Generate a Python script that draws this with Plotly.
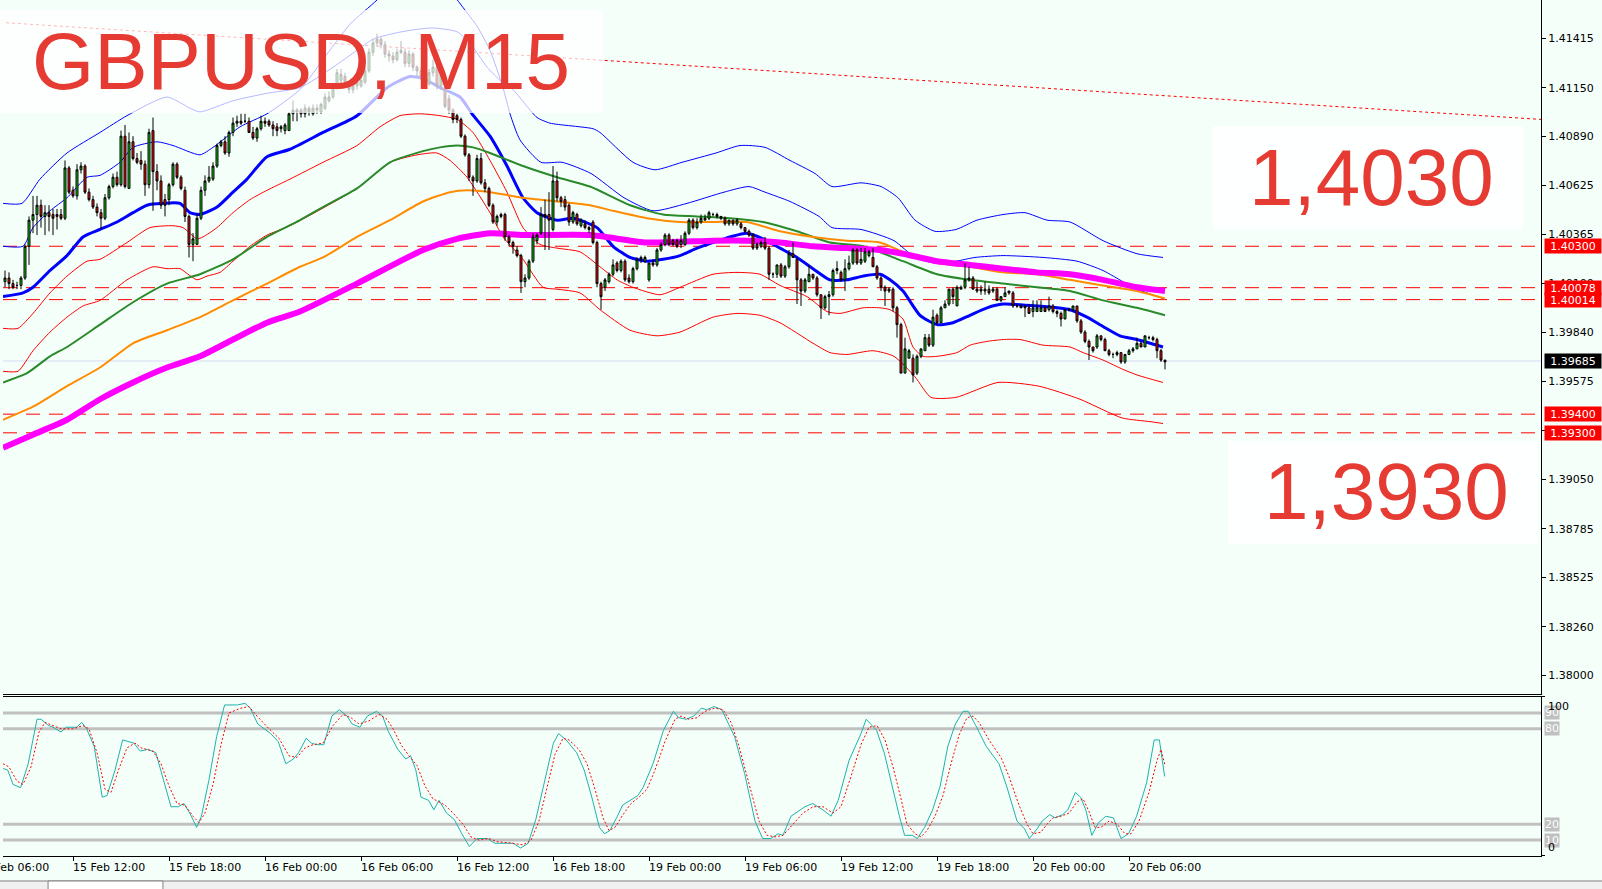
import plotly.graph_objects as go

# GBPUSD M15 candles, 15 Feb 07:45 .. 20 Feb 08:15 (one value per bar)
opens = [
    1.4011, 1.4013, 1.4010, 1.4009, 1.4009, 1.4013, 1.4030, 1.4044, 1.4047, 1.4052,  # 0
    1.4046, 1.4048, 1.4047, 1.4047, 1.4047, 1.4045, 1.4072, 1.4060, 1.4057, 1.4071,  # 10
    1.4073, 1.4059, 1.4055, 1.4051, 1.4048, 1.4045, 1.4056, 1.4062, 1.4067, 1.4063,  # 20
    1.4089, 1.4061, 1.4086, 1.4077, 1.4076, 1.4074, 1.4063, 1.4092, 1.4070, 1.4065,  # 30
    1.4055, 1.4055, 1.4063, 1.4074, 1.4067, 1.4060, 1.4046, 1.4031, 1.4031, 1.4045,  # 40
    1.4060, 1.4065, 1.4066, 1.4073, 1.4084, 1.4086, 1.4080, 1.4091, 1.4096, 1.4097,  # 50
    1.4097, 1.4097, 1.4091, 1.4088, 1.4093, 1.4097, 1.4097, 1.4095, 1.4094, 1.4093,  # 60
    1.4092, 1.4092, 1.4101, 1.4103, 1.4103, 1.4101, 1.4104, 1.4101, 1.4104, 1.4102,  # 70
    1.4104, 1.4108, 1.4110, 1.4115, 1.4119, 1.4121, 1.4117, 1.4114, 1.4116, 1.4116,  # 80
    1.4118, 1.4124, 1.4134, 1.4139, 1.4141, 1.4138, 1.4133, 1.4132, 1.4130, 1.4134,  # 90
    1.4134, 1.4128, 1.4133, 1.4126, 1.4124, 1.4121, 1.4117, 1.4123, 1.4126, 1.4116,  # 100
    1.4115, 1.4109, 1.4103, 1.4100, 1.4098, 1.4089, 1.4079, 1.4067, 1.4065, 1.4077,  # 110
    1.4064, 1.4061, 1.4052, 1.4043, 1.4046, 1.4047, 1.4035, 1.4032, 1.4028, 1.4025,  # 120
    1.4011, 1.4013, 1.4022, 1.4033, 1.4037, 1.4046, 1.4047, 1.4039, 1.4065, 1.4056,  # 130
    1.4055, 1.4052, 1.4043, 1.4047, 1.4041, 1.4042, 1.4040, 1.4043, 1.4032, 1.4010,  # 140
    1.4008, 1.4011, 1.4015, 1.4021, 1.4017, 1.4022, 1.4013, 1.4011, 1.4018, 1.4023,  # 150
    1.4022, 1.4012, 1.4021, 1.4020, 1.4028, 1.4031, 1.4036, 1.4033, 1.4033, 1.4031,  # 160
    1.4031, 1.4037, 1.4044, 1.4040, 1.4043, 1.4044, 1.4045, 1.4047, 1.4047, 1.4046,  # 170
    1.4045, 1.4042, 1.4044, 1.4042, 1.4042, 1.4040, 1.4038, 1.4036, 1.4031, 1.4030,  # 180
    1.4032, 1.4029, 1.4015, 1.4015, 1.4020, 1.4014, 1.4019, 1.4026, 1.4023, 1.4012,  # 190
    1.4006, 1.4011, 1.4015, 1.4013, 1.4004, 1.3997, 1.4003, 1.4004, 1.4017, 1.4016,  # 200
    1.4012, 1.4018, 1.4021, 1.4028, 1.4021, 1.4022, 1.4025, 1.4024, 1.4019, 1.4013,  # 210
    1.4008, 1.4006, 1.4007, 1.3997, 1.3988, 1.3962, 1.3970, 1.3970, 1.3962, 1.3971,  # 220
    1.3974, 1.3981, 1.3977, 1.3993, 1.3989, 1.3997, 1.3999, 1.4007, 1.3998, 1.4007,  # 230
    1.4008, 1.4012, 1.4013, 1.4007, 1.4007, 1.4006, 1.4007, 1.4006, 1.4007, 1.4001,  # 240
    1.4003, 1.4006, 1.4005, 1.3998, 1.3998, 1.3998, 1.3997, 1.3995, 1.3995, 1.3995,  # 250
    1.3997, 1.3996, 1.3998, 1.3995, 1.3994, 1.3991, 1.3996, 1.3996, 1.3998, 1.3990,  # 260
    1.3984, 1.3979, 1.3976, 1.3976, 1.3982, 1.3980, 1.3974, 1.3972, 1.3972, 1.3973,  # 270
    1.3968, 1.3972, 1.3974, 1.3975, 1.3978, 1.3976, 1.3981, 1.3981, 1.3980, 1.3974,  # 280
    1.3969,
]
highs = [
    1.4017, 1.4016, 1.4012, 1.4011, 1.4014, 1.4031, 1.4046, 1.4057, 1.4057, 1.4055,
    1.4052, 1.4052, 1.4050, 1.4050, 1.4050, 1.4076, 1.4073, 1.4062, 1.4074, 1.4075,
    1.4074, 1.4061, 1.4057, 1.4053, 1.4050, 1.4058, 1.4063, 1.4069, 1.4070, 1.4092,
    1.4095, 1.4091, 1.4089, 1.4080, 1.4081, 1.4076, 1.4093, 1.4099, 1.4074, 1.4068,
    1.4058, 1.4064, 1.4075, 1.4075, 1.4068, 1.4062, 1.4047, 1.4037, 1.4047, 1.4062,
    1.4068, 1.4073, 1.4075, 1.4085, 1.4087, 1.4089, 1.4092, 1.4099, 1.4100, 1.4101,
    1.4101, 1.4099, 1.4094, 1.4094, 1.4100, 1.4099, 1.4098, 1.4097, 1.4096, 1.4095,
    1.4096, 1.4102, 1.4108, 1.4104, 1.4104, 1.4106, 1.4105, 1.4106, 1.4106, 1.4107,
    1.4112, 1.4113, 1.4117, 1.4125, 1.4125, 1.4123, 1.4119, 1.4118, 1.4121, 1.4122,
    1.4126, 1.4136, 1.4141, 1.4144, 1.4142, 1.4140, 1.4135, 1.4134, 1.4136, 1.4140,
    1.4136, 1.4135, 1.4134, 1.4127, 1.4126, 1.4123, 1.4125, 1.4130, 1.4128, 1.4124,
    1.4116, 1.4111, 1.4104, 1.4101, 1.4099, 1.4090, 1.4080, 1.4068, 1.4079, 1.4080,
    1.4066, 1.4062, 1.4053, 1.4047, 1.4048, 1.4048, 1.4036, 1.4033, 1.4030, 1.4026,
    1.4015, 1.4023, 1.4037, 1.4037, 1.4051, 1.4055, 1.4059, 1.4073, 1.4070, 1.4057,
    1.4057, 1.4053, 1.4049, 1.4048, 1.4045, 1.4044, 1.4041, 1.4044, 1.4033, 1.4011,
    1.4013, 1.4016, 1.4023, 1.4022, 1.4023, 1.4023, 1.4015, 1.4019, 1.4024, 1.4025,
    1.4025, 1.4021, 1.4023, 1.4029, 1.4032, 1.4037, 1.4037, 1.4034, 1.4034, 1.4036,
    1.4038, 1.4045, 1.4045, 1.4045, 1.4047, 1.4047, 1.4049, 1.4048, 1.4048, 1.4046,
    1.4046, 1.4044, 1.4044, 1.4045, 1.4043, 1.4040, 1.4039, 1.4037, 1.4032, 1.4033,
    1.4035, 1.4030, 1.4016, 1.4020, 1.4021, 1.4020, 1.4028, 1.4032, 1.4024, 1.4013,
    1.4013, 1.4020, 1.4015, 1.4014, 1.4004, 1.4004, 1.4006, 1.4018, 1.4022, 1.4017,
    1.4023, 1.4025, 1.4029, 1.4029, 1.4029, 1.4029, 1.4028, 1.4029, 1.4020, 1.4014,
    1.4009, 1.4008, 1.4008, 1.3998, 1.3989, 1.3981, 1.3975, 1.3972, 1.3972, 1.3975,
    1.3983, 1.3983, 1.3996, 1.3994, 1.3998, 1.4001, 1.4007, 1.4008, 1.4009, 1.4009,
    1.4021, 1.4019, 1.4014, 1.4011, 1.4009, 1.4011, 1.4009, 1.4008, 1.4008, 1.4003,
    1.4008, 1.4006, 1.4006, 1.3999, 1.3999, 1.3998, 1.3999, 1.4001, 1.4001, 1.4001,
    1.3998, 1.4003, 1.3999, 1.3996, 1.3995, 1.3996, 1.3997, 1.3998, 1.3998, 1.3991,
    1.3985, 1.3980, 1.3976, 1.3983, 1.3982, 1.3981, 1.3975, 1.3973, 1.3974, 1.3973,
    1.3972, 1.3975, 1.3976, 1.3981, 1.3979, 1.3982, 1.3982, 1.3982, 1.3981, 1.3975,
    1.3969,
]
lows = [
    1.4008, 1.4007, 1.4007, 1.4007, 1.4007, 1.4012, 1.4020, 1.4037, 1.4036, 1.4040,
    1.4036, 1.4038, 1.4036, 1.4039, 1.4044, 1.4044, 1.4058, 1.4056, 1.4055, 1.4069,
    1.4058, 1.4054, 1.4050, 1.4046, 1.4039, 1.4044, 1.4055, 1.4061, 1.4062, 1.4062,
    1.4061, 1.4061, 1.4076, 1.4074, 1.4071, 1.4057, 1.4061, 1.4049, 1.4060, 1.4050,
    1.4046, 1.4052, 1.4062, 1.4066, 1.4060, 1.4043, 1.4024, 1.4022, 1.4031, 1.4044,
    1.4057, 1.4064, 1.4065, 1.4072, 1.4083, 1.4079, 1.4078, 1.4089, 1.4094, 1.4095,
    1.4096, 1.4091, 1.4087, 1.4086, 1.4092, 1.4094, 1.4094, 1.4089, 1.4089, 1.4091,
    1.4090, 1.4092, 1.4097, 1.4097, 1.4099, 1.4099, 1.4100, 1.4100, 1.4101, 1.4101,
    1.4103, 1.4107, 1.4109, 1.4114, 1.4117, 1.4115, 1.4112, 1.4112, 1.4114, 1.4115,
    1.4117, 1.4123, 1.4132, 1.4137, 1.4136, 1.4131, 1.4129, 1.4128, 1.4129, 1.4133,
    1.4126, 1.4126, 1.4124, 1.4121, 1.4119, 1.4115, 1.4116, 1.4121, 1.4114, 1.4114,
    1.4104, 1.4101, 1.4096, 1.4096, 1.4088, 1.4078, 1.4065, 1.4057, 1.4064, 1.4063,
    1.4059, 1.4051, 1.4042, 1.4041, 1.4045, 1.4033, 1.4030, 1.4026, 1.4024, 1.4005,
    1.4008, 1.4012, 1.4021, 1.4031, 1.4036, 1.4028, 1.4028, 1.4038, 1.4054, 1.4051,
    1.4049, 1.4041, 1.4042, 1.4041, 1.4040, 1.4039, 1.4037, 1.4031, 1.4008, 1.3996,
    1.4006, 1.4010, 1.4014, 1.4016, 1.4016, 1.4011, 1.4010, 1.4010, 1.4017, 1.4021,
    1.4021, 1.4011, 1.4019, 1.4019, 1.4027, 1.4030, 1.4030, 1.4030, 1.4029, 1.4029,
    1.4030, 1.4036, 1.4039, 1.4039, 1.4042, 1.4044, 1.4044, 1.4046, 1.4045, 1.4044,
    1.4041, 1.4041, 1.4041, 1.4041, 1.4039, 1.4037, 1.4035, 1.4028, 1.4028, 1.4029,
    1.4028, 1.4012, 1.4013, 1.4013, 1.4013, 1.4013, 1.4018, 1.4024, 1.3999, 1.3998,
    1.4005, 1.4011, 1.4012, 1.4003, 1.3991, 1.3996, 1.3993, 1.4003, 1.4015, 1.4011,
    1.4006, 1.4017, 1.4020, 1.4020, 1.4020, 1.4021, 1.4024, 1.4019, 1.4012, 1.4006,
    1.3998, 1.4005, 1.3995, 1.3981, 1.3962, 1.3962, 1.3970, 1.3957, 1.3961, 1.3970,
    1.3974, 1.3976, 1.3976, 1.3988, 1.3989, 1.3997, 1.3998, 1.3999, 1.3998, 1.4007,
    1.4007, 1.4011, 1.4007, 1.4005, 1.4004, 1.4004, 1.4004, 1.4005, 1.4001, 1.4000,
    1.4003, 1.4004, 1.3997, 1.3997, 1.3997, 1.3992, 1.3994, 1.3992, 1.3995, 1.3995,
    1.3995, 1.3995, 1.3994, 1.3992, 1.3987, 1.3991, 1.3995, 1.3995, 1.3989, 1.3983,
    1.3978, 1.3969, 1.3973, 1.3975, 1.3979, 1.3974, 1.3971, 1.3970, 1.3971, 1.3967,
    1.3967, 1.3972, 1.3973, 1.3975, 1.3976, 1.3976, 1.3980, 1.3979, 1.3970, 1.3968,
    1.3964,
]
closes = [
    1.4013, 1.4010, 1.4008, 1.4009, 1.4013, 1.4030, 1.4044, 1.4047, 1.4052, 1.4046,
    1.4048, 1.4046, 1.4045, 1.4046, 1.4045, 1.4072, 1.4059, 1.4057, 1.4071, 1.4073,
    1.4059, 1.4055, 1.4051, 1.4048, 1.4045, 1.4056, 1.4062, 1.4067, 1.4063, 1.4089,
    1.4062, 1.4086, 1.4077, 1.4075, 1.4074, 1.4063, 1.4091, 1.4070, 1.4065, 1.4052,
    1.4052, 1.4063, 1.4074, 1.4067, 1.4061, 1.4046, 1.4031, 1.4034, 1.4045, 1.4060,
    1.4065, 1.4067, 1.4073, 1.4084, 1.4086, 1.4080, 1.4091, 1.4096, 1.4097, 1.4096,
    1.4097, 1.4091, 1.4088, 1.4093, 1.4097, 1.4096, 1.4095, 1.4093, 1.4092, 1.4094,
    1.4095, 1.4101, 1.4103, 1.4102, 1.4101, 1.4104, 1.4102, 1.4104, 1.4103, 1.4106,
    1.4110, 1.4110, 1.4115, 1.4123, 1.4122, 1.4118, 1.4114, 1.4116, 1.4118, 1.4119,
    1.4124, 1.4134, 1.4139, 1.4141, 1.4138, 1.4133, 1.4132, 1.4130, 1.4134, 1.4135,
    1.4128, 1.4133, 1.4126, 1.4124, 1.4121, 1.4117, 1.4123, 1.4126, 1.4116, 1.4122,
    1.4105, 1.4103, 1.4098, 1.4098, 1.4089, 1.4079, 1.4067, 1.4065, 1.4077, 1.4064,
    1.4061, 1.4052, 1.4043, 1.4046, 1.4047, 1.4035, 1.4032, 1.4030, 1.4025, 1.4011,
    1.4013, 1.4022, 1.4035, 1.4036, 1.4047, 1.4047, 1.4044, 1.4065, 1.4056, 1.4054,
    1.4051, 1.4043, 1.4048, 1.4042, 1.4044, 1.4040, 1.4039, 1.4032, 1.4010, 1.4003,
    1.4012, 1.4015, 1.4020, 1.4017, 1.4022, 1.4012, 1.4011, 1.4018, 1.4023, 1.4024,
    1.4024, 1.4021, 1.4020, 1.4028, 1.4031, 1.4036, 1.4031, 1.4031, 1.4030, 1.4033,
    1.4037, 1.4044, 1.4040, 1.4043, 1.4045, 1.4045, 1.4048, 1.4047, 1.4046, 1.4045,
    1.4042, 1.4044, 1.4042, 1.4044, 1.4040, 1.4038, 1.4036, 1.4029, 1.4029, 1.4032,
    1.4029, 1.4015, 1.4015, 1.4020, 1.4014, 1.4019, 1.4026, 1.4024, 1.4012, 1.4006,
    1.4012, 1.4015, 1.4013, 1.4004, 1.3997, 1.4003, 1.4004, 1.4017, 1.4018, 1.4012,
    1.4018, 1.4021, 1.4028, 1.4021, 1.4023, 1.4027, 1.4027, 1.4019, 1.4013, 1.4008,
    1.4006, 1.4007, 1.3997, 1.3988, 1.3962, 1.3975, 1.3974, 1.3961, 1.3971, 1.3975,
    1.3981, 1.3977, 1.3992, 1.3989, 1.3997, 1.3999, 1.4007, 1.4003, 1.4008, 1.4008,
    1.4012, 1.4013, 1.4007, 1.4006, 1.4006, 1.4007, 1.4005, 1.4007, 1.4001, 1.4003,
    1.4005, 1.4005, 1.3998, 1.3998, 1.3997, 1.3997, 1.3994, 1.3997, 1.3997, 1.3997,
    1.3995, 1.3998, 1.3995, 1.3994, 1.3991, 1.3996, 1.3996, 1.3998, 1.3990, 1.3984,
    1.3979, 1.3976, 1.3974, 1.3982, 1.3980, 1.3974, 1.3972, 1.3972, 1.3973, 1.3968,
    1.3972, 1.3974, 1.3975, 1.3978, 1.3976, 1.3982, 1.3981, 1.3980, 1.3974, 1.3969,
    1.3968,
]

# time axis: bar index of each label
tick_bars = [-7, 17, 41, 65, 89, 113, 137, 161, 185, 209, 233, 257, 281]
tick_labels = ["15 Feb 06:00", "15 Feb 12:00", "15 Feb 18:00", "16 Feb 00:00",
               "16 Feb 06:00", "16 Feb 12:00", "16 Feb 18:00", "19 Feb 00:00",
               "19 Feb 06:00", "19 Feb 12:00", "19 Feb 18:00", "20 Feb 00:00",
               "20 Feb 06:00"]

price_ticks = [1.41415, 1.41150, 1.40890, 1.40625, 1.40365, 1.40100, 1.39840,
               1.39575, 1.39310, 1.39050, 1.38785, 1.38525, 1.38260, 1.38000]

# horizontal levels drawn on the chart
level_prices = [1.40300, 1.40078, 1.40014, 1.39400, 1.39300]
last_price = 1.39685
trend_start = 1.4150
trend_end = 1.4098

# moving averages, (bar, price)
ma_blue = [(-0.5, 1.4003), (4.5, 1.4005), (7, 1.4008), (11.25, 1.4017), (15.5, 1.4025),
           (19.5, 1.4035), (23.75, 1.4039), (28, 1.4043), (32, 1.4048), (35.5, 1.4052),
           (39.5, 1.4053), (43.75, 1.4053), (46.25, 1.4048), (48.75, 1.4047), (53, 1.4051),
           (57, 1.4059), (60.5, 1.4066), (65.5, 1.4078), (71.25, 1.4082), (79.5, 1.4091),
           (88, 1.4100), (95.5, 1.4115), (101.25, 1.4121), (104.5, 1.4120), (108.75, 1.4115),
           (113.75, 1.4110), (116.75, 1.4101), (121.25, 1.4089), (125.5, 1.4073), (129.5, 1.4056),
           (133, 1.4048), (138, 1.4044), (142, 1.4045), (148, 1.4040), (152, 1.4030),
           (156.25, 1.4024), (160.5, 1.4022), (164.5, 1.4023), (168.75, 1.4025), (173, 1.4029),
           (177, 1.4032), (181.25, 1.4035), (185.5, 1.4037), (189.5, 1.4034), (193.75, 1.4029),
           (198, 1.4024), (202, 1.4018), (206.25, 1.4012), (210.5, 1.4012), (214.5, 1.4014),
           (218.75, 1.4015), (221.25, 1.4012), (224.5, 1.4006), (228.75, 1.3993), (233, 1.3988),
           (237, 1.3989), (241.25, 1.3993), (245.5, 1.3997), (249.5, 1.3999), (258, 1.3998),
           (266.25, 1.3996), (270.5, 1.3992), (274.5, 1.3987), (278.75, 1.3982), (283, 1.3980),
           (289.5, 1.3976)]
ma_green = [(-0.5, 1.3957), (5.5, 1.3962), (11.25, 1.3971), (15.5, 1.3976), (23.75, 1.3988),
            (32, 1.4000), (40.5, 1.4010), (48.75, 1.4015), (57, 1.4023), (65.5, 1.4035),
            (73.75, 1.4044), (79.5, 1.4051), (88, 1.4061), (96.25, 1.4075), (104.5, 1.4081),
            (108.75, 1.4083), (113, 1.4084), (117, 1.4083), (121.25, 1.4080), (129.5, 1.4073),
            (138, 1.4067), (146.25, 1.4062), (156.25, 1.4052), (164.5, 1.4047), (173, 1.4046),
            (181.25, 1.4045), (189.5, 1.4043), (198, 1.4038), (206.25, 1.4032), (214.5, 1.4030),
            (224.5, 1.4022), (233, 1.4015), (241.25, 1.4012), (249.5, 1.4010), (258, 1.4008),
            (266.25, 1.4006), (274.5, 1.4001), (283, 1.3997), (290, 1.3993)]
ma_orange = [(-0.5, 1.3937), (7, 1.3944), (15.5, 1.3955), (23.75, 1.3965), (32, 1.3978),
             (40.5, 1.3985), (48.75, 1.3992), (57, 1.4001), (65.5, 1.4010), (73.75, 1.4019),
             (79.5, 1.4024), (88, 1.4035), (96.25, 1.4044), (104.5, 1.4054), (111.25, 1.4059),
             (115.5, 1.4060), (121.25, 1.4059), (129.5, 1.4056), (138, 1.4054), (146.25, 1.4052),
             (152, 1.4049), (160.5, 1.4045), (168.75, 1.4043), (177, 1.4043), (185.5, 1.4043),
             (193.75, 1.4038), (202, 1.4035), (210.5, 1.4033), (218.75, 1.4032), (224.5, 1.4027),
             (233, 1.4021), (241.25, 1.4019), (249.5, 1.4016), (258, 1.4015), (266.25, 1.4012),
             (274.5, 1.4009), (283, 1.4006), (290, 1.4002)]
ma_magenta = [(-0.5, 1.3922), (7, 1.3929), (15.5, 1.3937), (23.75, 1.3948), (32, 1.3957),
              (40.5, 1.3965), (48.75, 1.3971), (57, 1.3980), (65.5, 1.3989), (73.75, 1.3995),
              (88, 1.4010), (104.5, 1.4028), (113, 1.4034), (121.25, 1.4037), (129.5, 1.4036),
              (146.25, 1.4036), (160.5, 1.4032), (177, 1.4033), (185.5, 1.4033), (193.75, 1.4032),
              (202, 1.4030), (210.5, 1.4029), (218.75, 1.4028), (224.5, 1.4026), (233, 1.4022),
              (241.25, 1.4020), (249.5, 1.4018), (258, 1.4016), (266.25, 1.4015), (274.5, 1.4012),
              (283, 1.4008), (290, 1.4006)]

# channel lines: two upper (blue) and two lower (red)
band_up_fast = [(-0.5, 1.4030), (4.5, 1.4030), (7, 1.4040), (11.25, 1.4049), (15.5, 1.4056),
                (20.5, 1.4067), (23.75, 1.4068), (28.75, 1.4075), (32, 1.4083), (38, 1.4086),
                (42, 1.4084), (48.75, 1.4079), (52, 1.4083), (58.75, 1.4094), (65.5, 1.4101),
                (73.75, 1.4114), (80.5, 1.4133), (86.25, 1.4149), (93, 1.4162), (98.75, 1.4175),
                (106.25, 1.4178), (111.25, 1.4167), (114.5, 1.4158), (118, 1.4148), (121.25, 1.4135),
                (124.5, 1.4115), (126.25, 1.4101), (128.75, 1.4087), (134, 1.4075), (139.25, 1.4075),
                (146.5, 1.4069), (154.75, 1.4056), (162, 1.4049), (170.5, 1.4053), (179.75, 1.4059),
                (186, 1.4062), (190, 1.4059), (196.25, 1.4054), (203.5, 1.4046), (206.75, 1.4040),
                (214, 1.4039), (222.25, 1.4033), (227.5, 1.4024), (232.5, 1.4021), (237.75, 1.4022),
                (242.5, 1.4024), (249.5, 1.4025), (259.5, 1.4024), (268, 1.4022), (274.5, 1.4017),
                (279.5, 1.4011), (283, 1.4007), (289.5, 1.4002)]
band_up_slow = [(-0.5, 1.4053), (4.25, 1.4053), (8.75, 1.4066), (15.5, 1.4080), (23.75, 1.4091),
                (30.5, 1.4100), (40.5, 1.4110), (46.25, 1.4104), (48.75, 1.4102), (57, 1.4108),
                (65.5, 1.4112), (73.75, 1.4115), (82, 1.4126), (88, 1.4135), (92, 1.4141),
                (97, 1.4144), (102, 1.4146), (107, 1.4147), (113, 1.4145), (116.25, 1.4139),
                (120.5, 1.4126), (123.75, 1.4119), (127, 1.4114), (130.5, 1.4105), (133, 1.4099),
                (136.25, 1.4096), (147, 1.4093), (148.75, 1.4091), (157, 1.4075), (162.5, 1.4071),
                (169.25, 1.4075), (177.75, 1.4080), (183.75, 1.4084), (190, 1.4083), (196.25, 1.4076),
                (202.5, 1.4069), (206.75, 1.4062), (214, 1.4064), (219, 1.4062), (223.25, 1.4056),
                (227.5, 1.4044), (232.5, 1.4038), (237.75, 1.4039), (243, 1.4044), (249.5, 1.4047),
                (255, 1.4048), (260.5, 1.4044), (266.25, 1.4043), (274.5, 1.4033), (283, 1.4026),
                (289.5, 1.4024)]
band_lo_fast = [(-0.5, 1.3986), (3.25, 1.3986), (7, 1.3994), (11.25, 1.4005), (15.5, 1.4014),
                (20.5, 1.4022), (23.75, 1.4023), (30.5, 1.4032), (36.25, 1.4040), (42, 1.4041),
                (44.5, 1.4040), (48, 1.4034), (49.5, 1.4035), (53, 1.4040), (57, 1.4048),
                (61.25, 1.4055), (65.5, 1.4060), (71.25, 1.4066), (79.5, 1.4075), (88, 1.4084),
                (93.75, 1.4094), (98.75, 1.4100), (103.75, 1.4101), (108.75, 1.4100), (113, 1.4098),
                (117, 1.4091), (121.25, 1.4076), (125.5, 1.4059), (129.5, 1.4040), (133.75, 1.4031),
                (138, 1.4029), (143.75, 1.4027), (148.75, 1.4019), (153, 1.4012), (157, 1.4008),
                (163.75, 1.4004), (168.75, 1.4008), (177, 1.4015), (183, 1.4016), (188.75, 1.4015),
                (193.75, 1.4009), (200.5, 1.4003), (205.5, 1.3995), (208.75, 1.3994), (214.5, 1.3997),
                (218.75, 1.3997), (221.25, 1.3996), (224.5, 1.3991), (227, 1.3976), (229.5, 1.3971),
                (233, 1.3971), (238, 1.3973), (241.25, 1.3977), (245.5, 1.3979), (249.5, 1.3980),
                (253.75, 1.3980), (259.5, 1.3977), (266.25, 1.3976), (269.5, 1.3973), (274.5, 1.3969),
                (279.5, 1.3964), (283, 1.3961), (289.5, 1.3957)]
band_lo_slow = [(-0.5, 1.3963), (3.25, 1.3963), (7, 1.3974), (11.25, 1.3984), (15.5, 1.3992),
                (19.5, 1.3998), (23.75, 1.4001), (30.5, 1.4012), (37, 1.4019), (40.5, 1.4018),
                (43.75, 1.4018), (45.75, 1.4015), (48, 1.4012), (50.5, 1.4014), (53.75, 1.4016),
                (57, 1.4022), (61.25, 1.4030), (65.5, 1.4036), (71.25, 1.4041), (88, 1.4061),
                (96.25, 1.4075), (103, 1.4079), (108, 1.4080), (111.25, 1.4076), (115.5, 1.4067),
                (121.25, 1.4048), (124.5, 1.4035), (129.5, 1.4023), (134.5, 1.4008), (138, 1.4007),
                (143.75, 1.4005), (148.75, 1.3996), (156.25, 1.3985), (163, 1.3982), (168.75, 1.3984),
                (177, 1.3992), (183, 1.3994), (188.75, 1.3993), (193.75, 1.3989), (202, 1.3978),
                (206.25, 1.3973), (210.5, 1.3972), (217, 1.3974), (222.25, 1.3971), (227.5, 1.3960),
                (231.5, 1.3949), (237.75, 1.3949), (248.25, 1.3957), (258.5, 1.3955), (268.75, 1.3948),
                (279.25, 1.3938), (286.25, 1.3936), (289.5, 1.3935)]

# stochastic oscillator, (bar, value)
stoch_k = [(-0.5, 55), (0.7, 54), (2, 45), (3.9, 43), (5.8, 58), (8, 86), (9, 86), (10.9, 82),
           (12, 81), (14, 78), (15.3, 81), (17.9, 81), (19.2, 84), (20.4, 80), (22.3, 69),
           (24.3, 37), (25.5, 38), (27.5, 54), (29.4, 73), (30.6, 72), (32.2, 71), (33.8, 66),
           (35.7, 67), (37.7, 65), (39.6, 48), (41.5, 31), (43.4, 31), (44.7, 33), (46.2, 27),
           (47.9, 18), (49.1, 25), (51, 48), (52.9, 75), (54.9, 95), (58.1, 95), (60, 96),
           (61.3, 93), (63.2, 83), (66.4, 77), (68.3, 72), (70.2, 58), (72.1, 61), (73.4, 65),
           (75.3, 74), (76.6, 71), (77.9, 70), (79.7, 70), (81.7, 88), (83.6, 92), (85.5, 88),
           (86.8, 83), (88.7, 81), (90.6, 88), (92.9, 91), (94.4, 88), (95.7, 79), (98.2, 67),
           (100.2, 61), (101.4, 63), (102.7, 54), (104, 37), (105.9, 35), (107.2, 29), (108.5, 35),
           (110.4, 27), (112.3, 23), (114.2, 14), (116.1, 6), (118, 11), (120.6, 11), (122.5, 8),
           (125, 8), (127, 8), (128.9, 5), (130.8, 8), (132.7, 23), (135.2, 50), (137.1, 71),
           (138.4, 77), (140.3, 73), (142.9, 65), (144.8, 54), (146.7, 37), (148.6, 18), (149.9, 14),
           (151.2, 16), (153.1, 25), (154.4, 32), (156.3, 35), (158.2, 38), (159.5, 43), (162, 58),
           (164.6, 79), (167.1, 91), (168.4, 87), (170.3, 86), (172.2, 88), (174.1, 93), (175.4, 92),
           (177.3, 94), (179.2, 92), (182.4, 75), (184.9, 52), (187.5, 22), (189.4, 11), (191.4, 11),
           (193.3, 14), (194.5, 13), (196.5, 25), (198.8, 29), (200, 31), (201.9, 33), (204.5, 29),
           (206.5, 25), (208.3, 35), (211, 60), (214, 77), (215.3, 86), (217.9, 79), (219.8, 65),
           (221.7, 44), (223.6, 25), (224.9, 13), (226.8, 13), (228.1, 11), (229.9, 18), (231.9, 29),
           (233.8, 44), (235.7, 69), (237.6, 83), (239.5, 91), (240.8, 91), (242.7, 82), (245.3, 69),
           (248.5, 58), (250.4, 44), (253, 22), (254.9, 17), (256.1, 11), (258, 17), (259.3, 22),
           (261.2, 26), (262.5, 24), (264.4, 26), (265.7, 29), (267.6, 40), (268.9, 37), (270.2, 29),
           (271.7, 13), (273.4, 21), (275.2, 25), (277.1, 24), (279, 11), (280.9, 14), (282.9, 25),
           (285.4, 46), (287.3, 73), (288.6, 73), (289.9, 50)]
stoch_d = [(-0.5, 58), (1, 56), (3, 47), (4.5, 45), (6.5, 56), (8.5, 78), (10, 84), (12, 82),
           (14, 80), (17, 80), (19.5, 82), (21, 80), (23, 65), (25, 42), (26.5, 40), (28.5, 55),
           (30.5, 68), (32.5, 71), (34, 68), (37, 66), (39, 58), (41, 44), (43, 33), (45, 32),
           (47, 25), (48.5, 21), (50, 27), (52, 45), (54, 70), (56, 90), (59, 93), (61, 94),
           (63, 88), (66, 80), (68.5, 74), (71, 63), (73, 62), (75, 68), (77, 70), (79.5, 71),
           (82, 82), (84.5, 89), (86.5, 87), (88.5, 83), (91, 85), (93.5, 89), (95.5, 86), (97, 80),
           (99, 70), (101, 63), (103, 57), (105, 44), (107, 36), (108.5, 34), (110, 32), (112, 27),
           (114.5, 20), (116.5, 12), (118.5, 10), (121, 11), (123, 9), (127, 8), (129.5, 7),
           (131.5, 10), (133.5, 22), (135.5, 43), (137.5, 64), (139.5, 74), (141, 73), (143.5, 67),
           (145.5, 58), (147.5, 42), (149.5, 24), (151, 16), (152.5, 18), (154.5, 26), (156.5, 33),
           (158.5, 37), (160.5, 42), (162.5, 54), (165, 72), (167.5, 86), (169, 88), (171, 86),
           (173, 87), (175, 91), (177.5, 93), (179.5, 92), (181.5, 84), (183.5, 69), (186, 45),
           (188.5, 22), (190.5, 13), (192.5, 12), (194.5, 13), (197, 20), (199.5, 27), (202, 31),
           (204.5, 31), (207, 27), (209, 31), (211.5, 50), (214, 70), (216, 81), (218, 82), (220, 73),
           (222, 56), (224, 36), (225.5, 20), (227.5, 14), (229, 12), (230.5, 16), (232.5, 25),
           (234.5, 38), (236.5, 58), (238.5, 76), (240.5, 87), (242, 88), (243.5, 84), (246, 73),
           (249, 62), (251, 50), (253.5, 32), (255.5, 20), (257, 14), (259, 15), (260.5, 20),
           (262, 24), (264, 25), (266, 27), (268, 34), (269.5, 36), (271, 28), (272.5, 18), (274, 18),
           (276, 22), (278, 20), (280, 14), (281.5, 14), (283.5, 22), (286, 40), (288, 60), (289, 67),
           (290, 57)]
stoch_levels = [90, 80, 20, 10]

BG = "#F5FFFA"
TXT = "DejaVu Sans"
X_RANGE = [-0.5, 384]
Y_RANGE = [1.37900, 1.41620]

bars = list(range(len(closes)))
fig = go.Figure()


def add_line(pairs, color, width, xa="x", ya="y", shape="spline", dash=None):
    fig.add_trace(go.Scatter(
        x=[p[0] for p in pairs], y=[p[1] for p in pairs], mode="lines",
        line=dict(color=color, width=width, shape=shape, smoothing=0.6, dash=dash),
        xaxis=xa, yaxis=ya, hoverinfo="skip"))


# indicator lines (main pane)
add_line(band_up_slow, "#0000FF", 1)
add_line(band_up_fast, "#0000FF", 1)
add_line(band_lo_slow, "#FF0000", 1)
add_line(band_lo_fast, "#FF0000", 1)
add_line(ma_blue, "#0000FF", 3)
add_line(ma_green, "#2A8A2A", 2)
add_line(ma_orange, "#FF8C00", 2)
add_line(ma_magenta, "#FF00FF", 6)

# stochastic pane
add_line(stoch_k, "#20B2AA", 1, "x2", "y2", shape="linear")
add_line(stoch_d, "#FF0000", 1, "x2", "y2", shape="linear", dash="2px,2px")

# candles on an overlay so they sit above the lines
fig.add_trace(go.Candlestick(
    x=bars, open=opens, high=highs, low=lows, close=closes,
    xaxis="x3", yaxis="y3", whiskerwidth=0, hoverinfo="skip",
    increasing=dict(line=dict(color="black", width=1), fillcolor="#1EC81E"),
    decreasing=dict(line=dict(color="black", width=1), fillcolor="#F01414")))

shapes = []
for p in level_prices:
    shapes.append(dict(type="line", xref="x", yref="y", x0=X_RANGE[0], x1=X_RANGE[1],
                       y0=p, y1=p, layer="below",
                       line=dict(color="#FF0000", width=1, dash="14px,9px")))
shapes.append(dict(type="line", xref="x", yref="y", x0=X_RANGE[0], x1=X_RANGE[1],
                   y0=last_price, y1=last_price, layer="below",
                   line=dict(color="#D6DAF6", width=1)))
shapes.append(dict(type="line", xref="x", yref="y", x0=-1.25, x1=X_RANGE[1],
                   y0=trend_start, y1=trend_end, layer="below",
                   line=dict(color="#FF0000", width=1, dash="3px,3px")))
for lv in stoch_levels:
    shapes.append(dict(type="line", xref="x2", yref="y2", x0=X_RANGE[0], x1=X_RANGE[1],
                       y0=lv, y1=lv, layer="below", line=dict(color="#C0C0C0", width=3)))

# white panels behind the big texts (title panel lets the chart show through)
shapes.append(dict(type="rect", xref="paper", yref="paper", x0=-0.01, x1=0.3901,
                   y0=0.8680, y1=0.9883, layer="above", line=dict(width=0),
                   fillcolor="rgba(255,255,255,0.72)"))
shapes.append(dict(type="rect", xref="paper", yref="paper", x0=0.7867, x1=0.9883,
                   y0=0.7325, y1=0.8528, layer="above", line=dict(width=0),
                   fillcolor="rgba(255,255,255,0.85)"))
shapes.append(dict(type="rect", xref="paper", yref="paper", x0=0.7965, x1=0.9981,
                   y0=0.3645, y1=0.4848, layer="above", line=dict(width=0),
                   fillcolor="rgba(255,255,255,0.85)"))
# terminal tab strip at the very bottom
shapes.append(dict(type="rect", xref="paper", yref="paper", x0=-0.01, x1=1.05,
                   y0=-0.045, y1=-0.0292, layer="above",
                   line=dict(color="#808080", width=1), fillcolor="#F0F0F0"))
shapes.append(dict(type="rect", xref="paper", yref="paper", x0=0.0293, x1=0.1040,
                   y0=-0.045, y1=-0.0292, layer="above",
                   line=dict(color="#808080", width=1), fillcolor="#FFFFFF"))

ann = []
big = dict(family="Liberation Sans, Arial", size=80, color="#E53B33")
ann.append(dict(text="GBPUSD, M15", xref="paper", yref="paper", x=0.1938, y=0.9287,
                xanchor="center", yanchor="middle", showarrow=False, font=big))
ann.append(dict(text="1,4030", xref="paper", yref="paper", x=0.8898, y=0.7926,
                xanchor="center", yanchor="middle", showarrow=False, font=big))
ann.append(dict(text="1,3930", xref="paper", yref="paper", x=0.8995, y=0.4258,
                xanchor="center", yanchor="middle", showarrow=False, font=big))

# price labels of the horizontal lines on the right scale
for p in level_prices + [last_price]:
    ann.append(dict(text=f"{p:.5f}", xref="paper", yref="y", x=1, y=p, xanchor="left",
                    yanchor="middle", xshift=3, showarrow=False, width=54, height=12,
                    borderpad=1, align="center",
                    bgcolor="#000000" if p == last_price else "#FF0000",
                    font=dict(family=TXT, size=11, color="white")))

# stochastic scale
for lv in stoch_levels:
    ann.append(dict(text=str(lv), xref="paper", yref="y2", x=1, y=lv, xanchor="left",
                    yanchor="middle", xshift=3, showarrow=False, bgcolor="#C0C0C0",
                    borderpad=0, font=dict(family=TXT, size=11, color="white")))
ann.append(dict(text="100", xref="paper", yref="y2", x=1, y=100, xanchor="left",
                yanchor="top", xshift=5, yshift=-1, showarrow=False,
                font=dict(family=TXT, size=11, color="black")))
ann.append(dict(text="0", xref="paper", yref="y2", x=1, y=0, xanchor="left",
                yanchor="bottom", xshift=5, showarrow=False,
                font=dict(family=TXT, size=11, color="black")))

# time labels start at their tick, as in the terminal
for b, lab in zip(tick_bars, tick_labels):
    xb = max(b, X_RANGE[0])
    ann.append(dict(text=lab, xref="x2", yref="paper", x=xb, y=0, xanchor="left",
                    yanchor="top", xshift=(b - xb) * 4 - 2, yshift=-3, showarrow=False,
                    font=dict(family=TXT, size=11, color="black")))

fig.update_layout(
    width=1602, height=889,
    margin=dict(l=3, r=61, t=0, b=33, pad=0),
    paper_bgcolor=BG, plot_bgcolor=BG,
    showlegend=False, hovermode=False,
    shapes=shapes, annotations=ann,
    xaxis=dict(domain=[0, 1], range=X_RANGE, anchor="y", showticklabels=False,
               showgrid=False, zeroline=False, showline=True, linecolor="black",
               linewidth=1, rangeslider=dict(visible=False)),
    xaxis2=dict(domain=[0, 1], range=X_RANGE, anchor="y2", tickvals=tick_bars,
                ticks="outside", ticklen=4, tickcolor="black", showticklabels=False,
                showgrid=False, zeroline=False, showline=True, mirror=True,
                linecolor="black", linewidth=1),
    xaxis3=dict(range=X_RANGE, overlaying="x", anchor="y3", visible=False,
                rangeslider=dict(visible=False)),
    yaxis=dict(domain=[0.18925, 1], range=Y_RANGE, anchor="x", side="right",
               tickvals=price_ticks, ticktext=[f"{t:.5f}" for t in price_ticks],
               ticks="outside", ticklen=4, tickcolor="black", showgrid=False,
               zeroline=False, showline=True, linecolor="black", linewidth=1,
               tickfont=dict(family=TXT, size=11, color="black"), automargin=False),
    yaxis2=dict(domain=[0, 0.18575], range=[0, 100], anchor="x2", side="right",
                tickvals=[0, 100], ticks="outside", ticklen=3, tickcolor="black",
                showticklabels=False, showgrid=False, zeroline=False, showline=True,
                linecolor="black", linewidth=1, automargin=False),
    yaxis3=dict(range=Y_RANGE, overlaying="y", anchor="x3", side="right", visible=False),
)

fig.write_html("out.html", config={"displayModeBar": False},
               post_script="document.body.style.margin='0';document.body.style.overflow='hidden';")
